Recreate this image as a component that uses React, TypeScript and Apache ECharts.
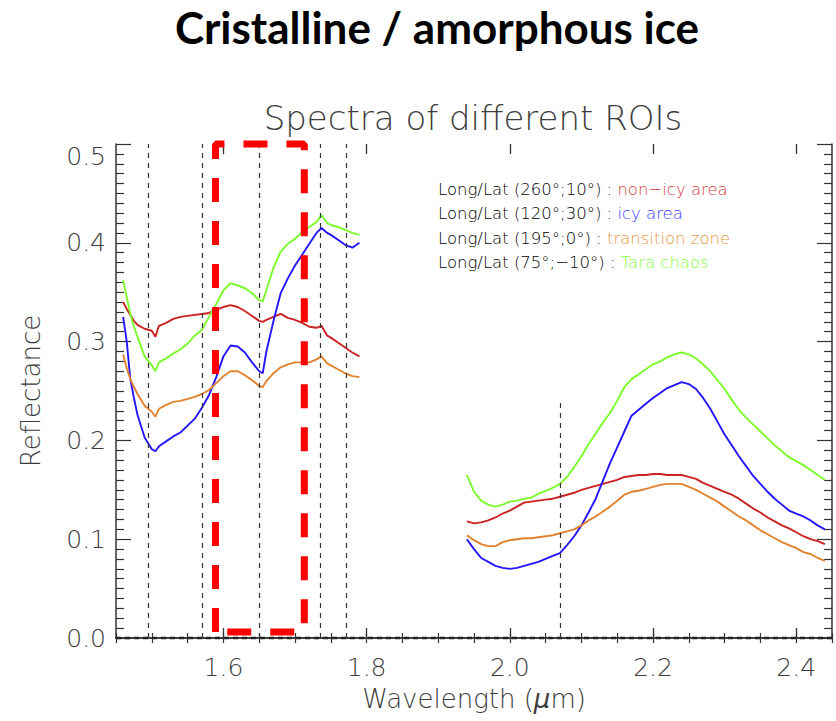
import React, { useEffect, useRef } from "react";
import * as echarts from "echarts";

// ---------- data ----------
const wavelengthA = [1.460, 1.465, 1.470, 1.475, 1.480, 1.490, 1.500, 1.505, 1.510, 1.520, 1.530, 1.540, 1.550, 1.560, 1.570, 1.580, 1.590, 1.600, 1.610, 1.620, 1.630, 1.640, 1.650, 1.655, 1.660, 1.670, 1.680, 1.690, 1.700, 1.710, 1.720, 1.730, 1.737, 1.745, 1.750, 1.760, 1.770, 1.780, 1.790];
const nonIcyA = [0.340, 0.333, 0.327, 0.321, 0.317, 0.313, 0.311, 0.305, 0.316, 0.319, 0.323, 0.325, 0.326, 0.327, 0.328, 0.329, 0.332, 0.335, 0.337, 0.335, 0.331, 0.326, 0.321, 0.320, 0.322, 0.325, 0.328, 0.324, 0.322, 0.319, 0.315, 0.314, 0.316, 0.306, 0.304, 0.299, 0.294, 0.289, 0.285];
const icyA = [0.325, 0.300, 0.262, 0.243, 0.226, 0.203, 0.191, 0.189, 0.194, 0.199, 0.204, 0.208, 0.215, 0.222, 0.233, 0.246, 0.264, 0.285, 0.296, 0.295, 0.289, 0.279, 0.270, 0.268, 0.290, 0.321, 0.349, 0.364, 0.377, 0.388, 0.399, 0.410, 0.415, 0.410, 0.408, 0.403, 0.398, 0.395, 0.400];
const transitionA = [0.287, 0.273, 0.262, 0.254, 0.247, 0.235, 0.229, 0.224, 0.232, 0.236, 0.239, 0.240, 0.242, 0.244, 0.247, 0.251, 0.258, 0.265, 0.270, 0.270, 0.266, 0.261, 0.255, 0.254, 0.260, 0.268, 0.274, 0.277, 0.279, 0.279, 0.279, 0.282, 0.285, 0.278, 0.276, 0.272, 0.268, 0.265, 0.264];
const taraA = [0.362, 0.345, 0.328, 0.315, 0.305, 0.285, 0.276, 0.270, 0.279, 0.283, 0.288, 0.292, 0.298, 0.306, 0.312, 0.325, 0.338, 0.352, 0.359, 0.357, 0.354, 0.349, 0.342, 0.341, 0.352, 0.375, 0.391, 0.399, 0.404, 0.411, 0.416, 0.421, 0.428, 0.420, 0.418, 0.416, 0.413, 0.410, 0.408];

const wavelengthB = [1.94, 1.95, 1.96, 1.97, 1.98, 1.99, 2.00, 2.01, 2.02, 2.03, 2.04, 2.05, 2.06, 2.07, 2.08, 2.09, 2.10, 2.11, 2.12, 2.13, 2.14, 2.15, 2.16, 2.17, 2.18, 2.19, 2.20, 2.21, 2.22, 2.23, 2.24, 2.25, 2.26, 2.27, 2.28, 2.29, 2.30, 2.31, 2.32, 2.33, 2.34, 2.35, 2.36, 2.37, 2.38, 2.39, 2.40, 2.41, 2.42, 2.43, 2.44];
const nonIcyB = [0.118, 0.116, 0.117, 0.119, 0.122, 0.126, 0.129, 0.133, 0.137, 0.138, 0.139, 0.140, 0.141, 0.143, 0.145, 0.147, 0.150, 0.152, 0.154, 0.156, 0.158, 0.160, 0.163, 0.164, 0.165, 0.165, 0.166, 0.166, 0.165, 0.165, 0.165, 0.163, 0.161, 0.157, 0.154, 0.151, 0.148, 0.145, 0.141, 0.136, 0.131, 0.127, 0.122, 0.118, 0.114, 0.111, 0.107, 0.103, 0.100, 0.098, 0.095];
const icyB = [0.100, 0.090, 0.081, 0.077, 0.073, 0.071, 0.070, 0.071, 0.073, 0.075, 0.077, 0.080, 0.083, 0.086, 0.094, 0.103, 0.114, 0.127, 0.141, 0.159, 0.177, 0.193, 0.209, 0.225, 0.231, 0.237, 0.243, 0.248, 0.253, 0.256, 0.259, 0.257, 0.252, 0.243, 0.232, 0.219, 0.206, 0.195, 0.184, 0.174, 0.164, 0.156, 0.148, 0.141, 0.135, 0.129, 0.126, 0.123, 0.119, 0.114, 0.110];
const transitionB = [0.104, 0.099, 0.095, 0.093, 0.093, 0.097, 0.099, 0.100, 0.101, 0.101, 0.102, 0.103, 0.104, 0.106, 0.108, 0.110, 0.114, 0.119, 0.123, 0.128, 0.133, 0.139, 0.145, 0.148, 0.149, 0.151, 0.153, 0.155, 0.156, 0.156, 0.156, 0.153, 0.150, 0.146, 0.142, 0.138, 0.133, 0.128, 0.123, 0.119, 0.114, 0.109, 0.105, 0.101, 0.097, 0.094, 0.091, 0.087, 0.085, 0.081, 0.078];
const taraB = [0.165, 0.148, 0.139, 0.135, 0.133, 0.135, 0.138, 0.139, 0.141, 0.142, 0.146, 0.149, 0.152, 0.156, 0.163, 0.173, 0.184, 0.196, 0.207, 0.218, 0.228, 0.240, 0.254, 0.262, 0.267, 0.272, 0.277, 0.280, 0.284, 0.287, 0.289, 0.287, 0.283, 0.277, 0.270, 0.261, 0.252, 0.241, 0.231, 0.223, 0.216, 0.209, 0.202, 0.195, 0.189, 0.183, 0.179, 0.175, 0.170, 0.165, 0.160];

const roiNames = ["non−icy area", "icy area", "transition zone", "Tara chaos"];
const roiCoords = ["Long/Lat (260°;10°) : ", "Long/Lat (120°;30°) : ", "Long/Lat (195°;0°) : ", "Long/Lat (75°;−10°) : "];

const xMajorLabels = ["1.6", "1.8", "2.0", "2.2", "2.4"];
const yMajorLabels = ["0.0", "0.1", "0.2", "0.3", "0.4", "0.5"];

// dotted guide lines: [wavelength, top reflectance]
const guideLines = [[1.495, 0.5], [1.57, 0.5], [1.65, 0.5], [1.735, 0.5], [1.772, 0.5], [2.07, 0.24]];
// red box: wavelength range and reflectance range
const boxX = [1.589, 1.713];
const boxY = [0.006, 0.5];

const lineColors = ["#cc2222", "#2414ff", "#e0822e", "#7cfc2a"];
const textColors = ["#d63a3a", "#3a3aff", "#e8963e", "#86ff40"];

const LABEL_FONT = "'DejaVu Sans', sans-serif";
const Y_MIN = 0;
const Y_MAX = 0.5;
const MAJOR_TICK = 0.0101; // reflectance units (~10 px)

export default function App() {
  const ref = useRef<HTMLDivElement>(null);

  useEffect(() => {
    if (!ref.current) return;
    const chart = echarts.init(ref.current, null, { renderer: "svg" });

    const segA = [nonIcyA, icyA, transitionA, taraA];
    const segB = [nonIcyB, icyB, transitionB, taraB];
    const spectra: any[] = [];
    for (let k = 0; k < 4; k++) {
      for (const [xs, ys] of [[wavelengthA, segA[k]], [wavelengthB, segB[k]]] as any) {
        spectra.push({
          type: "line",
          name: roiNames[k],
          data: xs.map((x: number, i: number) => [x, ys[i]]),
          showSymbol: false,
          lineStyle: { color: lineColors[k], width: 1.9 },
          z: 3,
        });
      }
    }

    const axisLine = { show: true, lineStyle: { color: "#333", width: 1.5 } };
    const labelStyle = {
      fontFamily: LABEL_FONT,
      fontSize: 25,
      fontWeight: 200 as any,
      color: "#3c3c3c",
    };

    const xFormatter = (v: number) => {
      const r = Math.round(v * 10) / 10;
      const s = r.toFixed(1);
      return Math.abs(v - r) < 1e-6 && xMajorLabels.includes(s) ? s : "";
    };
    const yFormatter = (v: number) => {
      const s = v.toFixed(1);
      return yMajorLabels.includes(s) ? s : "";
    };

    const guideMarks = guideLines.map(([x, top]) => [
      { coord: [x, Y_MIN] },
      { coord: [x, top] },
    ]);
    const tickMarks: any[] = [];
    xMajorLabels.forEach((s) => {
      const x = parseFloat(s);
      tickMarks.push([{ coord: [x, Y_MIN] }, { coord: [x, Y_MIN + MAJOR_TICK] }]);
      tickMarks.push([{ coord: [x, Y_MAX] }, { coord: [x, Y_MAX - MAJOR_TICK] }]);
    });

    const option: any = {
      animation: false,
      backgroundColor: "#ffffff",
      grid: { left: 116, right: 4, top: 144, bottom: 83, containLabel: false },
      xAxis: [
        {
          type: "value",
          position: "bottom",
          min: 1.45,
          max: 2.45,
          interval: 0.05,
          axisLine,
          axisTick: { show: true, inside: true, length: 5, lineStyle: { color: "#333", width: 1.2 } },
          axisLabel: { ...labelStyle, margin: 17, formatter: xFormatter },
          splitLine: { show: false },
          minorSplitLine: { show: false },
          name: "Wavelength ({mu|μ}m)",
          nameLocation: "middle",
          nameGap: 48,
          nameTextStyle: {
            fontFamily: LABEL_FONT,
            fontSize: 26,
            fontWeight: 200,
            color: "#3c3c3c",
            rich: {
              mu: { fontFamily: LABEL_FONT, fontSize: 26, fontWeight: 200, fontStyle: "italic", color: "#3c3c3c" },
            },
          },
        },
        {
          type: "value",
          position: "top",
          min: 1.45,
          max: 2.45,
          interval: 0.05,
          axisLine,
          axisTick: { show: true, inside: true, length: 5, lineStyle: { color: "#333", width: 1.2 } },
          axisLabel: { show: false },
          splitLine: { show: false },
          minorSplitLine: { show: false },
        },
      ],
      yAxis: [
        {
          type: "value",
          position: "left",
          min: Y_MIN,
          max: Y_MAX,
          interval: 0.1,
          axisLine,
          axisTick: { show: true, inside: true, length: 15, lineStyle: { color: "#333", width: 1.2 } },
          minorTick: { show: true, splitNumber: 10, length: 8, lineStyle: { color: "#333", width: 1.2 } },
          axisLabel: { ...labelStyle, margin: 10, formatter: yFormatter, verticalAlignMaxLabel: "top" },
          splitLine: { show: false },
          minorSplitLine: { show: false },
          name: "Reflectance",
          nameLocation: "middle",
          nameGap: 72,
          nameRotate: 90,
          nameTextStyle: { fontFamily: LABEL_FONT, fontSize: 26, fontWeight: 200, color: "#3c3c3c" },
        },
        {
          type: "value",
          position: "right",
          min: Y_MIN,
          max: Y_MAX,
          interval: 0.1,
          axisLine,
          axisTick: { show: true, inside: true, length: 15, lineStyle: { color: "#333", width: 1.2 } },
          minorTick: { show: true, splitNumber: 10, length: 8, lineStyle: { color: "#333", width: 1.2 } },
          axisLabel: { show: false },
          splitLine: { show: false },
          minorSplitLine: { show: false },
        },
      ],
      series: [
        // dotted guide lines
        {
          type: "line",
          data: [[guideLines[0][0], Y_MIN]],
          showSymbol: false,
          silent: true,
          lineStyle: { width: 0 },
          z: 2,
          markLine: {
            silent: true,
            symbol: ["none", "none"],
            label: { show: false },
            lineStyle: { color: "#333", width: 1.2, type: [5, 5] },
            emphasis: { disabled: true },
            data: guideMarks,
          },
        },
        ...spectra,
        // dashed line along reflectance 0
        {
          type: "line",
          data: [[1.45, 0], [2.45, 0]],
          showSymbol: false,
          clip: false,
          silent: true,
          lineStyle: { color: "#222", width: 2.5, type: [5, 4] },
          z: 4,
        },
        // red dashed box
        {
          type: "line",
          data: [
            [boxX[0], boxY[0]],
            [boxX[0], boxY[1]],
            [boxX[1], boxY[1]],
            [boxX[1], boxY[0]],
            [boxX[0], boxY[0]],
          ],
          showSymbol: false,
          clip: false,
          silent: true,
          lineStyle: { color: "#ff0000", width: 7, type: [24, 19], cap: "butt" },
          z: 6,
        },
        // major x ticks (bottom and top)
        {
          type: "line",
          data: [[1.45, Y_MIN]],
          showSymbol: false,
          silent: true,
          lineStyle: { width: 0 },
          z: 7,
          markLine: {
            silent: true,
            symbol: ["none", "none"],
            label: { show: false },
            lineStyle: { color: "#333", width: 1.3, type: "solid" },
            emphasis: { disabled: true },
            data: tickMarks,
          },
        },
      ],
      graphic: [
        {
          type: "text",
          style: {
            text: "Cristalline / amorphous ice",
            x: 437,
            y: 27,
            align: "center",
            verticalAlign: "middle",
            fontFamily: "Lato, 'Open Sans', sans-serif",
            fontWeight: "bold",
            fontSize: 44,
            fill: "#000",
          },
        },
        {
          type: "text",
          style: {
            text: "Spectra of different ROIs",
            x: 473,
            y: 118,
            align: "center",
            verticalAlign: "middle",
            fontFamily: LABEL_FONT,
            fontWeight: 200,
            fontSize: 34,
            fill: "#3c3c3c",
          },
        },
        ...roiNames.map((nm, k) => ({
          type: "text",
          style: {
            text: `{k|${roiCoords[k]}}{v|${nm}}`,
            x: 438,
            y: 189 + k * 24.6,
            align: "left",
            verticalAlign: "middle",
            rich: {
              k: { fontFamily: LABEL_FONT, fontSize: 16.5, fontWeight: 200, fill: "#000", color: "#000" },
              v: { fontFamily: LABEL_FONT, fontSize: 16.5, fontWeight: 200, fill: textColors[k], color: textColors[k] },
            },
          },
        })),
      ],
    };

    chart.setOption(option);
    return () => chart.dispose();
  }, []);

  return (
    <div
      ref={ref}
      style={{ position: "fixed", left: 0, top: 0, width: 836, height: 721, background: "#fff" }}
    />
  );
}
